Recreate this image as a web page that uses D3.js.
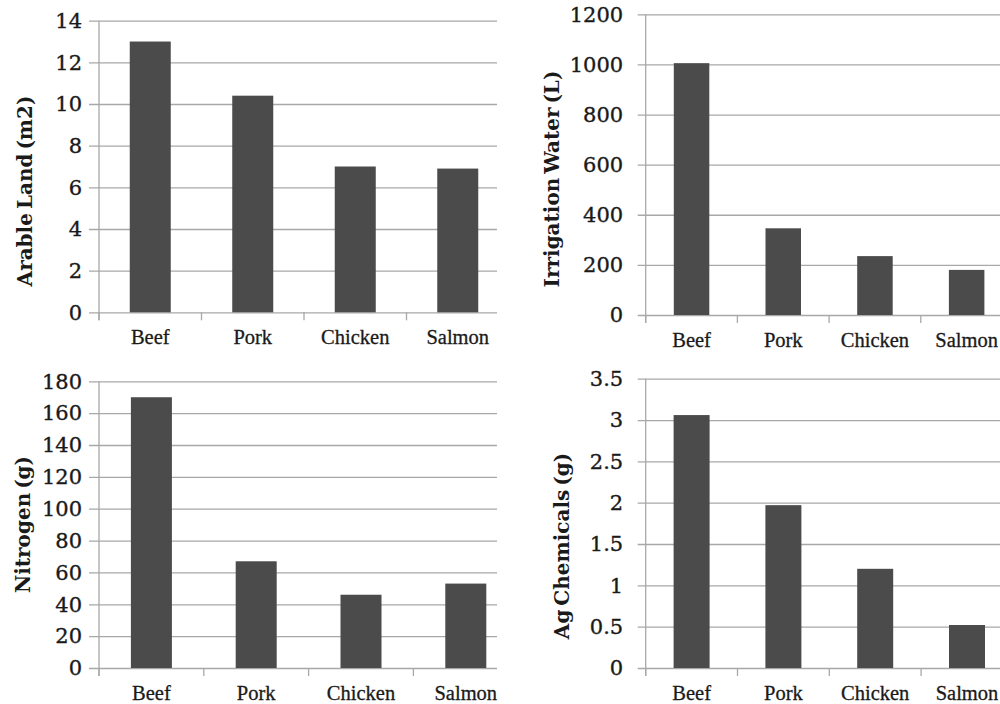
<!DOCTYPE html>
<html>
<head>
<meta charset="utf-8">
<script src="https://cdn.jsdelivr.net/npm/d3@7"></script>
<style>
  html, body { margin: 0; padding: 0; background: #fff; }
  svg { display: block; }
</style>
</head>
<body>
<svg id="chart" width="1000" height="704"></svg>
<script>
// ---- Data ----
const categories = ["Beef", "Pork", "Chicken", "Salmon"];
const arableLand = [13.0, 10.4, 7.0, 6.9];
const irrigationWater = [1005, 346, 235, 180];
const nitrogen = [170, 67, 46, 53];
const agChemicals = [3.06, 1.97, 1.2, 0.52];

const landTicks = [0, 2, 4, 6, 8, 10, 12, 14];
const waterTicks = [0, 200, 400, 600, 800, 1000, 1200];
const nitrogenTicks = [0, 20, 40, 60, 80, 100, 120, 140, 160, 180];
const chemTicks = [0, 0.5, 1, 1.5, 2, 2.5, 3, 3.5];

const titles = ["Arable Land (m2)", "Irrigation Water (L)", "Nitrogen (g)", "Ag Chemicals (g)"];

// ---- Layout ----
const panels = [
  { values: arableLand, ticks: landTicks, title: titles[0],
    axisX: 99, step: 102.5, y0: 312.3, yTop: 20.7, gridEnd: 497, barW: 41,
    labelOff: 17, tickLen: 10, titleX: 25, titleY: 191 },
  { values: irrigationWater, ticks: waterTicks, title: titles[1],
    axisX: 645.7, step: 91.7, y0: 315, yTop: 14.3, gridEnd: 1000, barW: 35.5,
    labelOff: 22.5, tickLen: 8, titleX: 552, titleY: 179 },
  { values: nitrogen, ticks: nitrogenTicks, title: titles[2],
    axisX: 99, step: 104.8, y0: 668, yTop: 381.3, gridEnd: 497, barW: 41,
    labelOff: 17, tickLen: 10, titleX: 23, titleY: 524.5 },
  { values: agChemicals, ticks: chemTicks, title: titles[3],
    axisX: 645.7, step: 91.8, y0: 668, yTop: 378.7, gridEnd: 1000, barW: 36,
    labelOff: 22.5, tickLen: 8, titleX: 562, titleY: 546 }
];

const svg = d3.select("#chart");
const barColor = "#4b4b4b";
const gridColor = "#a8a8a8";
const textColor = "#1a1a1a";

panels.forEach(p => {
  const g = svg.append("g");
  const x = d3.scaleBand().domain(categories)
    .range([p.axisX, p.axisX + categories.length * p.step]).padding(0);
  const yMax = p.ticks[p.ticks.length - 1];
  const y = d3.scaleLinear().domain([0, yMax]).range([p.y0, p.yTop]);

  // gridlines (with outward tick marks)
  const grid = g.append("g").attr("transform", `translate(${p.axisX - p.tickLen},0)`)
    .call(d3.axisRight(y).tickValues(p.ticks).tickSize(p.gridEnd - p.axisX + p.tickLen).tickFormat(""));
  grid.select(".domain").remove();
  grid.selectAll(".tick line").attr("stroke", gridColor).attr("stroke-width", 1.3);

  // y tick labels
  const yAxis = g.append("g").attr("transform", `translate(${p.axisX},0)`)
    .call(d3.axisLeft(y).tickValues(p.ticks).tickSize(0).tickPadding(p.labelOff)
      .tickFormat(d => String(d)));
  yAxis.select(".domain").remove();
  yAxis.selectAll(".tick text")
    .attr("fill", textColor)
    .attr("stroke", textColor).attr("stroke-width", 0.35)
    .style("font-family", "'DejaVu Serif', serif")
    .style("font-size", "21px");

  // bars
  g.selectAll("rect.bar").data(p.values).enter().append("rect")
    .attr("class", "bar")
    .attr("x", (d, i) => x(categories[i]) + (p.step - p.barW) / 2)
    .attr("width", p.barW)
    .attr("y", d => y(d))
    .attr("height", d => y(0) - y(d))
    .attr("fill", barColor);

  // y axis line
  g.append("line")
    .attr("x1", p.axisX).attr("x2", p.axisX)
    .attr("y1", y(yMax)).attr("y2", p.y0 + 8)
    .attr("stroke", gridColor).attr("stroke-width", 1.3);

  // x axis: category boundary ticks and labels
  const xAxis = g.append("g").attr("transform", `translate(0,${p.y0})`)
    .call(d3.axisBottom(x).tickSize(0).tickPadding(0));
  xAxis.select(".domain").remove();
  xAxis.selectAll(".tick text")
    .attr("y", 32).attr("dy", 0)
    .attr("fill", textColor)
    .attr("stroke", textColor).attr("stroke-width", 0.3)
    .style("font-family", "'Liberation Serif', 'Times New Roman', serif")
    .style("font-size", "20.5px");

  g.selectAll("line.xtick").data(categories).enter().append("line")
    .attr("class", "xtick")
    .attr("x1", d => x(d)).attr("x2", d => x(d))
    .attr("y1", p.y0).attr("y2", p.y0 + 8)
    .attr("stroke", gridColor).attr("stroke-width", 1.3);

  // axis title
  g.append("text")
    .attr("transform", `translate(${p.titleX},${p.titleY}) rotate(-90)`)
    .attr("text-anchor", "middle")
    .attr("dominant-baseline", "central")
    .attr("fill", textColor)
    .style("font-family", "'DejaVu Serif', serif")
    .style("font-weight", "bold")
    .style("font-size", "20px")
    .style("word-spacing", "-3px")
    .text(p.title);
});
</script>
</body>
</html>
